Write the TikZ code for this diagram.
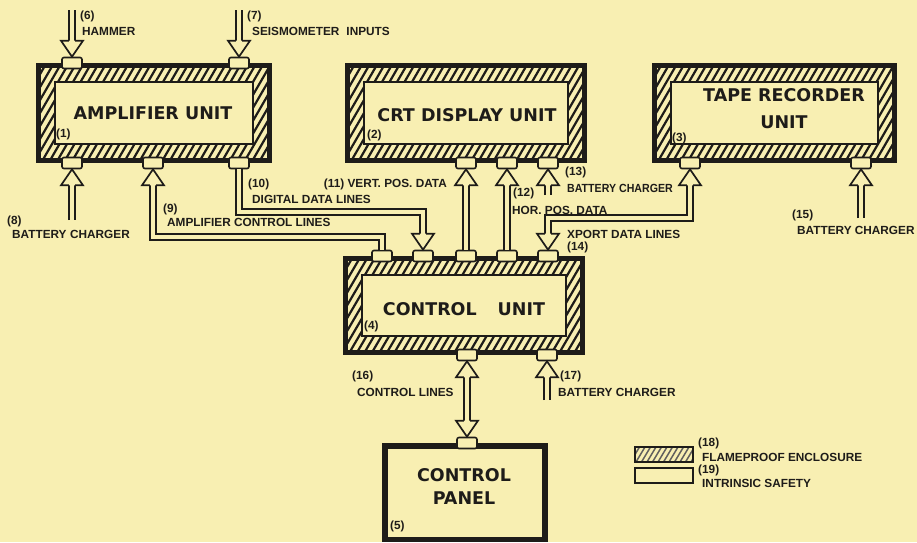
\documentclass[tikz,border=0pt]{standalone}
\usepackage{fontspec}
\setmainfont{Liberation Sans}
\newfontfamily\titlefam{DejaVu Sans}
\usetikzlibrary{calc}
\definecolor{paper}{RGB}{248,239,178}
\definecolor{ink}{RGB}{30,28,25}
\newcommand\fpbox[4]{%
  \fill[ink] (#1,#2) rectangle (#3,#4);
  \fill[paper] (#1+5,#2+5) rectangle (#3-5,#4-5);
  \begin{scope}
    \clip (#1+5,#2+5) rectangle (#3-5,#4-5);
    \foreach \k in {-70,-62.5,...,260} \draw[ink,line width=2.2pt] (#1+\k,#4) -- (#1+\k+58,#2);
  \end{scope}
  \filldraw[fill=paper,draw=ink,line width=1.6pt] (#1+19,#2+19) rectangle (#3-19,#4-19);
}
\tikzset{
  port/.style={draw=ink,line width=1.6pt,fill=paper,rounded corners=2pt,minimum width=20pt,minimum height=11pt,inner sep=0pt},
  dl/.style={draw=ink,line width=1.9pt,double=paper,double distance=4.5pt,line join=miter},
  title/.style={font=\titlefam\bfseries\fontsize{17.5}{20}\selectfont,inner sep=0pt,anchor=base,text=ink},
  lbl/.style={font=\bfseries\fontsize{11.8}{13}\selectfont,inner sep=0pt,anchor=base west,text=ink},
  tipdown/.pic={\fill[paper] (-11,-16) -- (0,0) -- (11,-16) -- cycle;
    \draw[ink,line width=1.7pt,line join=miter] (-3.2,-16) -- (-11,-16) -- (0,0) -- (11,-16) -- (3.2,-16);},
  tipup/.pic={\fill[paper] (-11,16) -- (0,0) -- (11,16) -- cycle;
    \draw[ink,line width=1.7pt,line join=miter] (-3.2,16) -- (-11,16) -- (0,0) -- (11,16) -- (3.2,16);},
}
\begin{document}
\begin{tikzpicture}[x=1pt,y=-1pt]
\useasboundingbox (0,0) rectangle (917,542);
\fill[paper] (0,0) rectangle (917,542);

% units
\fpbox{36}{63}{272}{163}
\fpbox{345}{63}{587}{163}
\fpbox{652}{63}{897}{163}
\fpbox{343}{256}{585}{355}
\fill[ink] (382,443) rectangle (548,542);
\fill[paper] (388,449) rectangle (542,537);

% titles
\node[title] (tamp) at (153,119) {AMPLIFIER UNIT};
\node[title] (tcrt) at (467,121) {CRT DISPLAY UNIT};
\node[title] (ttape1) at (784,101) {TAPE RECORDER};
\node[title] (ttape2) at (784,128) {UNIT};
\node[title] (tctl) at (464,315) {CONTROL\hspace{1.2em}UNIT};
\node[title] (tpan1) at (464,481) {CONTROL};
\node[title] (tpan2) at (464,504) {PANEL};
\node[lbl] (n1) at (56,137) {(1)};
\node[lbl] (n2) at (367,138) {(2)};
\node[lbl] (n3) at (672,141) {(3)};
\node[lbl] (n4) at (364,329) {(4)};
\node[lbl] (n5) at (390,529) {(5)};

% free ends
\coordinate (h6) at (72,10);
\coordinate (h7) at (239,10);
\coordinate (b8) at (72,220);
\coordinate (r9) at (0,237);
\coordinate (r10) at (0,212);
\coordinate (b13) at (548,195);
\coordinate (r14) at (0,218);
\coordinate (b15) at (861,218);
\coordinate (b17) at (547,400);

% ports
\node[port] (a1) at (72,63) {};
\node[port] (a2) at (239,63) {};
\node[port] (a3) at (72,163) {};
\node[port] (a4) at (153,163) {};
\node[port] (a5) at (239,163) {};
\node[port] (d1) at (466,163) {};
\node[port] (d2) at (507,163) {};
\node[port] (d3) at (548,163) {};
\node[port] (t1) at (690,163) {};
\node[port] (t2) at (861,163) {};
\node[port] (c1) at (382,256) {};
\node[port] (c2) at (423,256) {};
\node[port] (c3) at (466,256) {};
\node[port] (c4) at (507,256) {};
\node[port] (c5) at (548,256) {};
\node[port] (c6) at (467,355) {};
\node[port] (c7) at (547,355) {};
\node[port] (p1) at (467,443) {};

% connectors
\draw[dl] (h6) -- ([yshift=16pt]a1.north);
\pic at (a1.north) {tipdown};
\draw[dl] (h7) -- ([yshift=16pt]a2.north);
\pic at (a2.north) {tipdown};
\draw[dl] (b8) -- ([yshift=-16pt]a3.south);
\pic at (a3.south) {tipup};
\draw[dl] ([yshift=-16pt]a4.south) -- (a4.south |- r9) -| (c1.north);
\pic at (a4.south) {tipup};
\draw[dl] (a5.south) -- (a5.south |- r10) -| ([yshift=16pt]c2.north);
\pic at (c2.north) {tipdown};
\draw[dl] (c3.north) -- ([yshift=-16pt]d1.south);
\pic at (d1.south) {tipup};
\draw[dl] (c4.north) -- ([yshift=-16pt]d2.south);
\pic at (d2.south) {tipup};
\draw[dl] (b13) -- ([yshift=-16pt]d3.south);
\pic at (d3.south) {tipup};
\draw[dl] ([yshift=-16pt]t1.south) -- (t1.south |- r14) -| ([yshift=16pt]c5.north);
\pic at (t1.south) {tipup};
\pic at (c5.north) {tipdown};
\draw[dl] (b15) -- ([yshift=-16pt]t2.south);
\pic at (t2.south) {tipup};
\draw[dl] ([yshift=-16pt]c6.south) -- ([yshift=16pt]p1.north);
\pic at (c6.south) {tipup};
\pic at (p1.north) {tipdown};
\draw[dl] (b17) -- ([yshift=-16pt]c7.south);
\pic at (c7.south) {tipup};

% labels
\node[lbl] (l6a) at (80,19) {(6)};
\node[lbl] (l6b) at (82,35) {HAMMER};
\node[lbl] (l7a) at (247,19) {(7)};
\node[lbl] (l7b) at (252,35) {SEISMOMETER\hspace{0.6em}INPUTS};
\node[lbl] (l8a) at (7,224) {(8)};
\node[lbl] (l8b) at (12,238) {BATTERY\hspace{0.3em}CHARGER};
\node[lbl] (l9a) at (163,212) {(9)};
\node[lbl] (l9b) at (167,226) {AMPLIFIER CONTROL LINES};
\node[lbl] (l10a) at (248,187) {(10)};
\node[lbl] (l10b) at (252,203) {DIGITAL DATA LINES};
\node[lbl,anchor=base east] (l11) at (447,187) {(11) VERT. POS. DATA};
\node[lbl] (l12a) at (513,196) {(12)};
\node[lbl] (l12b) at (512,214) {HOR. POS. DATA};
\node[lbl] (l13a) at (565,175) {(13)};
\node[lbl,xscale=0.9] (l13b) at (567,192) {BATTERY CHARGER};
\node[lbl] (l14b) at (567,238) {XPORT DATA LINES};
\node[lbl] (l14a) at (567,250) {(14)};
\node[lbl] (l15a) at (792,218) {(15)};
\node[lbl] (l15b) at (797,234) {BATTERY CHARGER};
\node[lbl] (l16a) at (352,379) {(16)};
\node[lbl] (l16b) at (357,396) {CONTROL LINES};
\node[lbl] (l17a) at (560,379) {(17)};
\node[lbl] (l17b) at (558,396) {BATTERY CHARGER};

% legend
\filldraw[fill=paper,draw=ink,line width=1.3pt] (635,447) rectangle (693,462);
\begin{scope}
  \clip (635,447) rectangle (693,462);
  \foreach \k in {-10,-4.5,...,60} \draw[ink!70,line width=1.5pt] (635+\k,462) -- (635+\k+9,447);
\end{scope}
\draw[ink,line width=1.3pt] (635,447) rectangle (693,462);
\filldraw[fill=paper,draw=ink,line width=1.3pt] (635,468) rectangle (693,483);
\node[lbl] (l18a) at (698,446) {(18)};
\node[lbl] (l18b) at (702,461) {FLAMEPROOF ENCLOSURE};
\node[lbl] (l19a) at (698,473) {(19)};
\node[lbl] (l19b) at (702,487) {INTRINSIC SAFETY};
\end{tikzpicture}
\end{document}
